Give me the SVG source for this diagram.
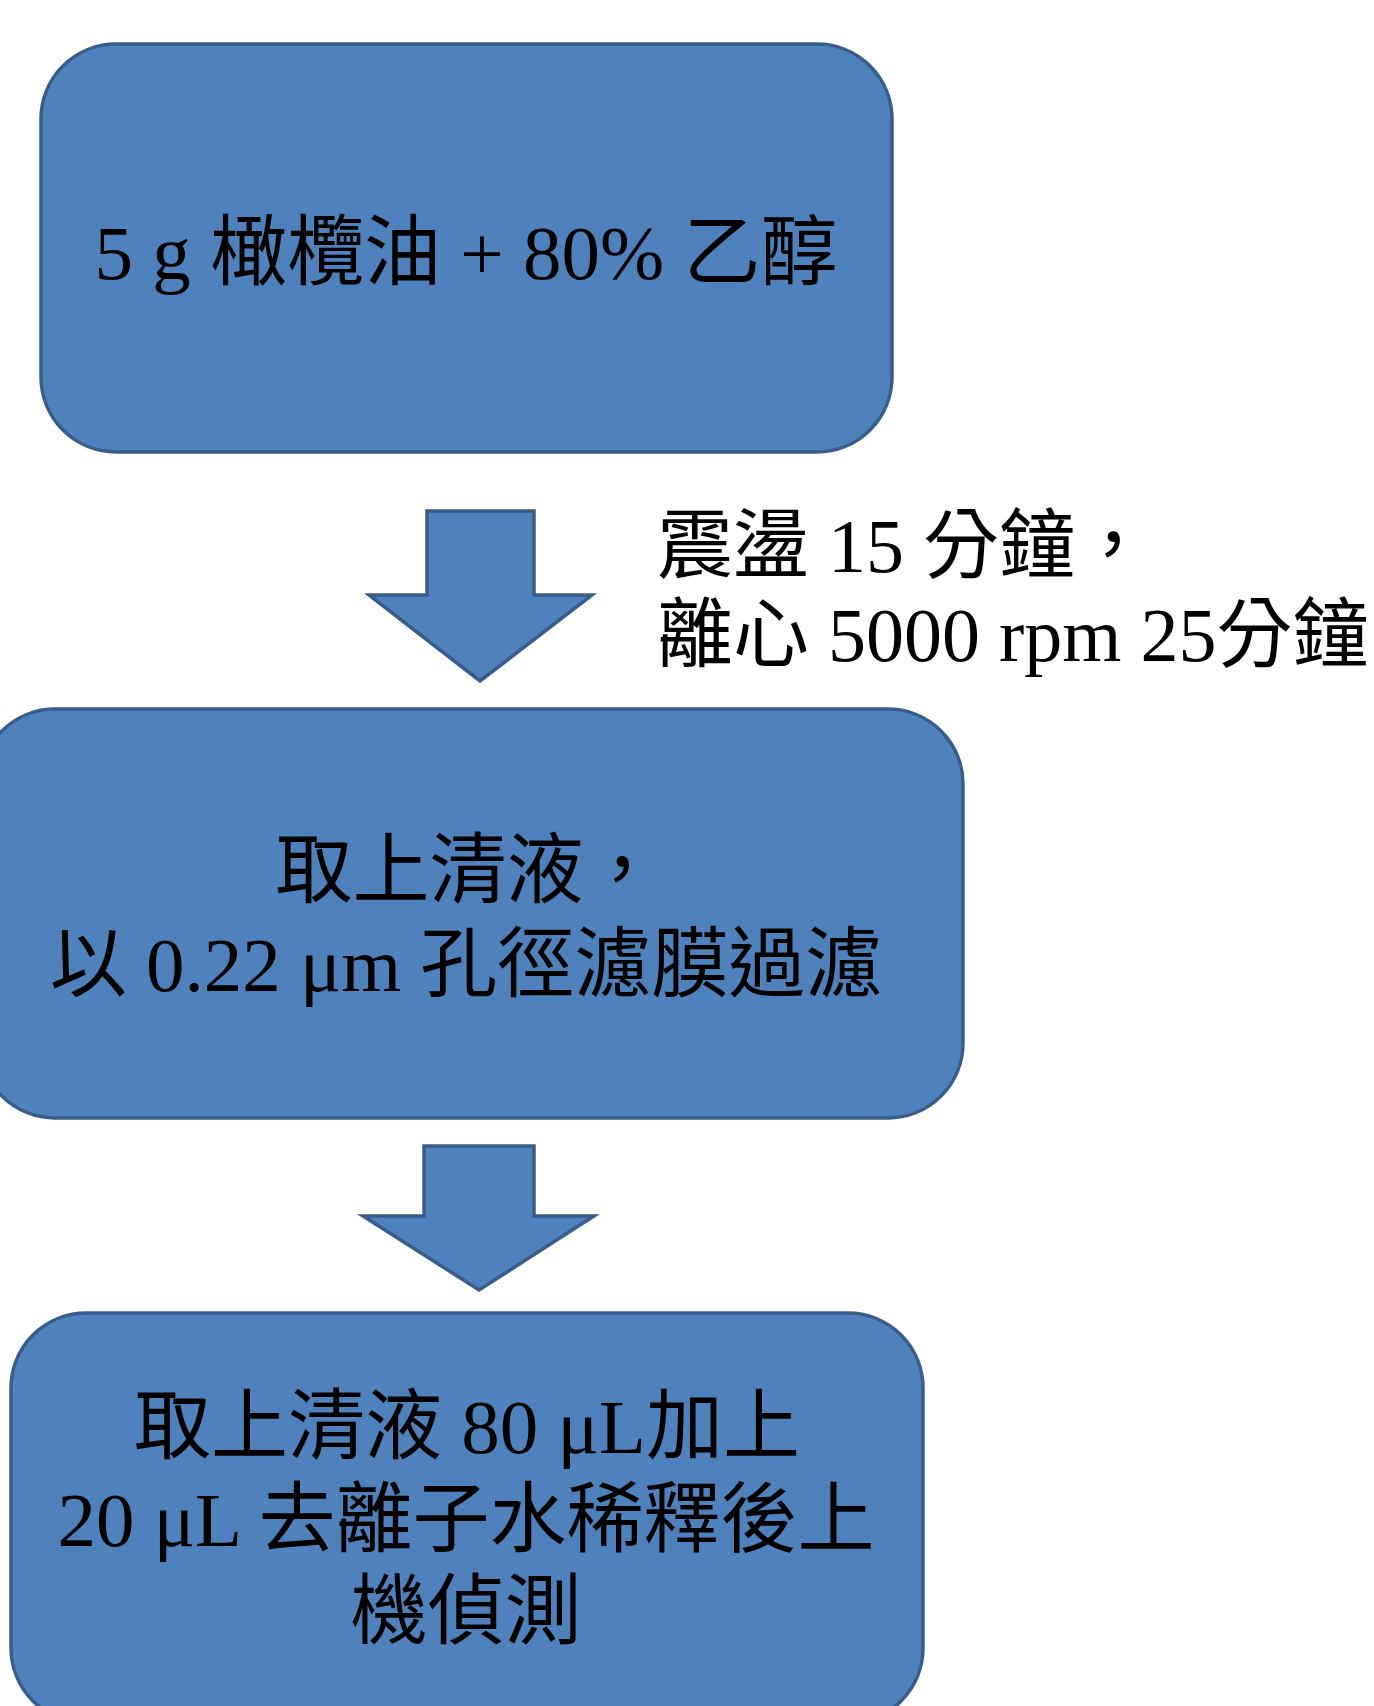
<svg xmlns="http://www.w3.org/2000/svg" width="1374" height="1706" viewBox="0 0 1374 1706">
<style>
.box{fill:#4F81BD;stroke:#385D8A;stroke-width:3.5}
.arr{fill:#4F81BD;stroke:#385D8A;stroke-width:3.5;stroke-linejoin:miter}
.t{font-family:"Liberation Serif","Noto Sans CJK TC",serif;font-size:77px;fill:#000}
.s{font-size:76px}
.c{text-anchor:middle}
</style>
<rect width="1374" height="1706" fill="#ffffff"/>
<g id="node1">
<rect class="box" x="41" y="44" width="851" height="408" rx="75" ry="75"/>
<text class="t c" x="466" y="279">5 g 橄欖油 + 80% 乙醇</text>
</g>
<g id="connectors">
<path class="arr" d="M427 511 H534 V595 H592 L480 681 L369 595 H427 Z"/>
<path class="arr" d="M424 1146 H534 V1216 H594 L479 1290 L363 1216 H424 Z"/>
</g>
<g id="label1">
<text class="t s" x="657" y="572">震盪 15 分鐘，</text>
<text class="t s" x="657" y="661">離心 5000 rpm 25分鐘</text>
</g>
<g id="node2">
<rect class="box" x="-20" y="709" width="983" height="409" rx="75" ry="75"/>
<text class="t c" x="468" y="897">取上清液，</text>
<text class="t c" x="466" y="991">以 0.22 μm 孔徑濾膜過濾</text>
</g>
<g id="node3">
<rect class="box" x="11" y="1313" width="912" height="410" rx="75" ry="75"/>
<text class="t c" x="467" y="1453">取上清液 80 μL加上</text>
<text class="t c" x="466" y="1546">20 μL 去離子水稀釋後上</text>
<text class="t c" x="466" y="1638">機偵測</text>
</g>
</svg>
